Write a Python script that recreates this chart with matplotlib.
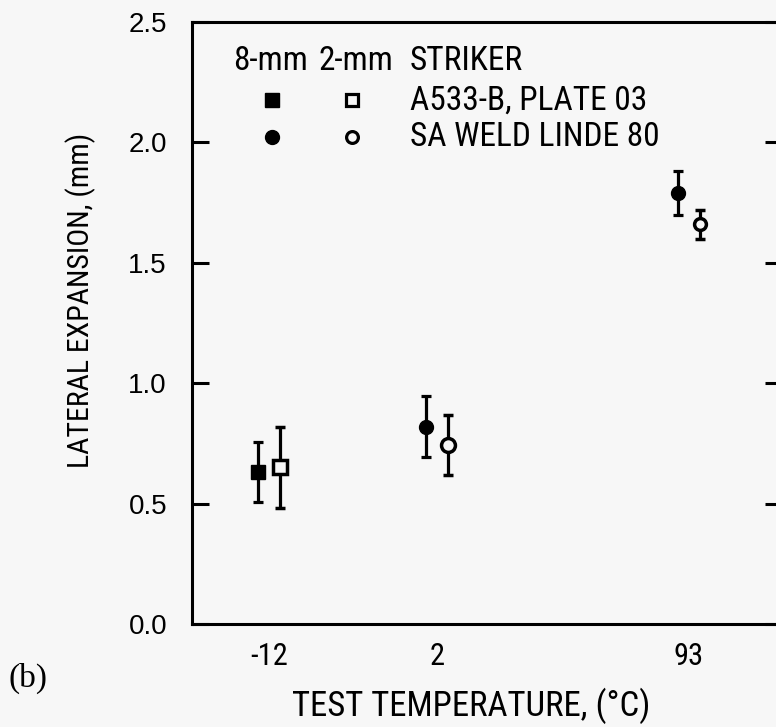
import numpy as np
import matplotlib.pyplot as plt
from matplotlib.ticker import MultipleLocator

# lateral expansion (mm) vs test temperature, two striker sizes
temps = ['-12', '2', '93']
group_pos = [0.0, 1.0, 2.5]

# 8-mm striker (filled) and 2-mm striker (open)
le_8mm = [0.63, 0.82, 1.79]
err_8mm = [0.125, 0.125, 0.09]
le_2mm = [0.65, 0.745, 1.66]
err_2mm = [0.17, 0.125, 0.06]
# -12 C is the A533-B plate (squares), the others the weld (circles)
marker = ['s', 'o', 'o']

plt.rcParams['font.family'] = ['Liberation Sans', 'DejaVu Sans']
cond = ['Roboto Condensed', 'Liberation Sans', 'DejaVu Sans']

bg = '#f7f7f7'
fig = plt.figure(figsize=(7.76, 7.27), dpi=100, facecolor=bg)
ax = fig.add_axes([192 / 776, 103 / 727, 590 / 776, 602 / 727], facecolor=bg)

off = 0.065
for i in range(len(temps)):
    ax.errorbar(group_pos[i] - off, le_8mm[i], yerr=err_8mm[i], fmt=marker[i],
                color='black', mfc='black', mec='black', ms=10, elinewidth=2.3,
                capsize=3.6, capthick=2.3)
    ax.errorbar(group_pos[i] + off, le_2mm[i], yerr=err_2mm[i], fmt=marker[i],
                color='black', mfc=bg, mec='black', mew=2.5,
                ms=10 if i < 2 else 8.5, elinewidth=2.3, capsize=3.6, capthick=2.3)

ax.set_xlim(-0.458, 3.054)
ax.set_ylim(0, 2.5)
ax.yaxis.set_major_locator(MultipleLocator(0.5))
ax.yaxis.set_major_formatter(plt.FuncFormatter(lambda v, p: f'{v:.1f}'))
ax.tick_params(axis='y', direction='in', left=True, right=True, length=12,
               width=2.2, pad=18, labelsize=20)
ax.set_xticks(group_pos)
ax.set_xticklabels(temps, fontsize=22, family=cond)
ax.tick_params(axis='x', length=0, pad=13)
for s in ax.spines.values():
    s.set_linewidth(2.2)

# legend block
tx = ax.transAxes
lg = dict(transform=tx, fontsize=24, va='center', family=cond)
ax.text(0.0695, 0.935, '8-mm', **lg)
ax.text(0.2136, 0.935, '2-mm', **lg)
ax.text(0.3695, 0.935, 'STRIKER', **lg)
ax.plot([0.1356], [0.870], 's', transform=tx, color='black', ms=10)
ax.plot([0.271], [0.870], 's', transform=tx, mfc=bg, mec='black', mew=2.3, ms=8.5)
ax.text(0.3695, 0.870, 'A533-B, PLATE 03', **lg)
ax.plot([0.1356], [0.809], 'o', transform=tx, color='black', ms=10)
ax.plot([0.271], [0.809], 'o', transform=tx, mfc=bg, mec='black', mew=2.3, ms=8.5)
ax.text(0.3695, 0.809, 'SA WELD LINDE 80', **lg)

fig.text(81 / 776, 1 - 300 / 727, 'LATERAL EXPANSION, (mm)', rotation=90,
         ha='center', va='center', fontsize=21.5, family=cond)
fig.text(471 / 776, 1 - 706 / 727, 'TEST TEMPERATURE, (\u00b0C)', ha='center',
         va='center', fontsize=25, family=cond)
fig.text(8 / 776, 1 - 678 / 727, '(b)', ha='left', va='center', fontsize=24,
         family=['Liberation Serif', 'DejaVu Serif'])

fig.savefig('out.png', dpi=100, facecolor=bg)
